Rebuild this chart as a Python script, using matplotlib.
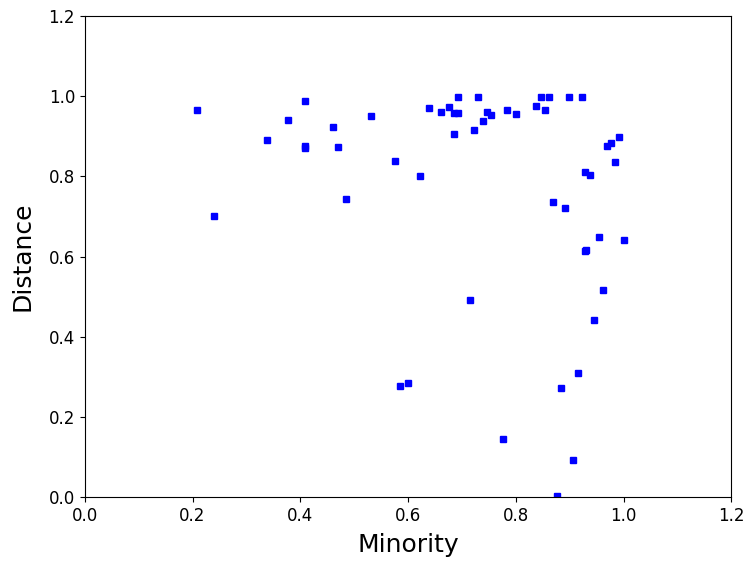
import matplotlib
matplotlib.use("Agg")
import matplotlib.pyplot as plt

# puntos
minority = [0.208, 0.240, 0.338, 0.377, 0.409, 0.409, 0.409, 0.461, 0.470, 0.485,
            0.531, 0.576, 0.622, 0.585, 0.600, 0.639, 0.661, 0.676, 0.685, 0.693,
            0.693, 0.685, 0.723, 0.730, 0.739, 0.747, 0.754, 0.715, 0.784, 0.801,
            0.777, 0.838, 0.846, 0.855, 0.862, 0.899, 0.923, 0.869, 0.892, 0.877,
            0.884, 0.907, 0.916, 0.929, 0.938, 0.929, 0.931, 0.946, 0.955, 0.962,
            0.970, 0.977, 0.985, 0.992, 1.000]
distance = [0.966, 0.700, 0.891, 0.941, 0.988, 0.876, 0.871, 0.923, 0.874, 0.743,
            0.950, 0.838, 0.801, 0.277, 0.285, 0.971, 0.961, 0.973, 0.958, 0.958,
            0.998, 0.906, 0.916, 0.998, 0.938, 0.961, 0.953, 0.491, 0.966, 0.956,
            0.145, 0.976, 0.998, 0.966, 0.998, 0.998, 0.998, 0.736, 0.721, 0.002,
            0.272, 0.092, 0.309, 0.810, 0.803, 0.614, 0.617, 0.442, 0.649, 0.517,
            0.876, 0.883, 0.836, 0.898, 0.641]

fig = plt.figure(figsize=(7.5, 5.65), dpi=100)
ax = fig.add_axes([0.113, 0.12, 0.862, 0.852])
ax.plot(minority, distance, "bs", markersize=4.5, linestyle="none")
ax.set_xlim(0, 1.2)
ax.set_ylim(0, 1.2)
ax.set_xlabel("Minority", fontsize=18, labelpad=6)
ax.set_ylabel("Distance", fontsize=18, labelpad=10)
ax.tick_params(labelsize=12)
fig.savefig("out.png", dpi=100)
